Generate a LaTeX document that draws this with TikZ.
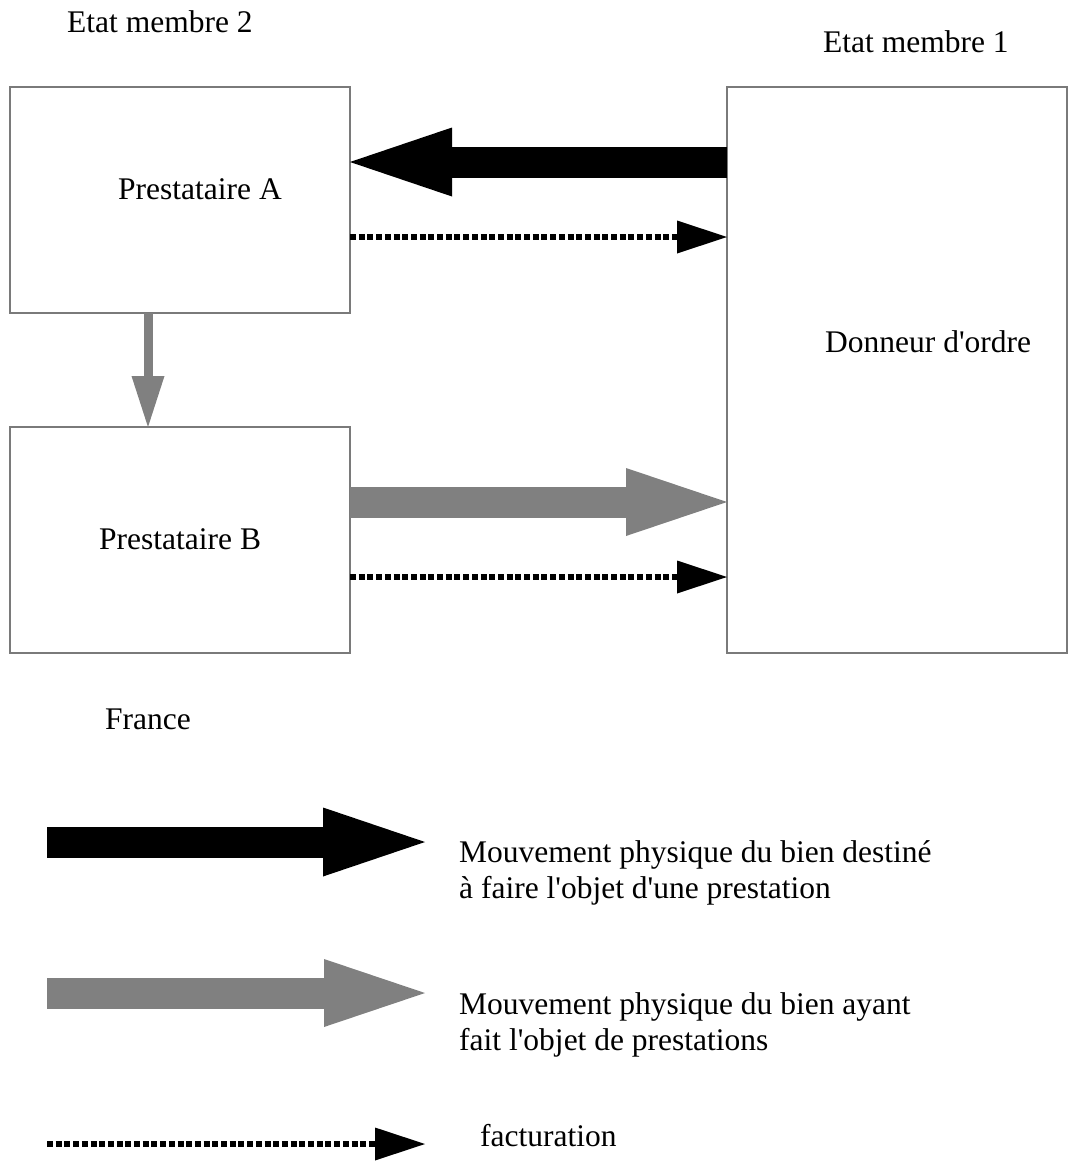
\documentclass[tikz,border=0pt]{standalone}
\usepackage{fontspec}
\newfontfamily\lsf{Liberation Serif}
\usetikzlibrary{arrows.meta}
\definecolor{arrgray}{HTML}{808080}
\definecolor{boxgray}{HTML}{7A7A7A}
\begin{document}
\begin{tikzpicture}[x=1pt,y=-1pt,
  box/.style={draw=boxgray, line width=1.2pt, rectangle, inner sep=0pt, outer sep=0pt},
  lbl/.style={font=\lsf\fontsize{31.5}{36}\selectfont, anchor=base west, inner sep=0pt},
  fatblack/.style={line width=31pt, draw=black, -{Triangle[length=102pt,width=69pt,line width=0pt]}},
  fatgray/.style={line width=31pt, draw=arrgray, -{Triangle[length=101pt,width=68pt,line width=0pt]}},
  thingray/.style={line width=9pt, draw=arrgray, -{Triangle[length=51pt,width=33pt,line width=0pt]}},
  billing/.style={line width=6pt, draw=black, dash pattern=on 6pt off 2.7pt, -{Triangle[length=50pt,width=33pt,line width=0pt]}},
]
\useasboundingbox (0,0) rectangle (1069,1162);
% boxes
\node[box, minimum width=340pt, minimum height=226pt] (A) at (180,200) {};
\node[box, minimum width=340pt, minimum height=226pt] (B) at (180,540) {};
\node[box, minimum width=340pt, minimum height=566pt] (D) at (897,370) {};
% texts
\node[lbl] (em2) at (67,32) {Etat membre 2};
\node[lbl] (em1) at (823,52) {Etat membre 1};
\node[lbl] (tA) at (118,199) {Prestataire A};
\node[lbl] (tB) at (99,549) {Prestataire B};
\node[lbl] (tD) at (825,352) {Donneur d'ordre};
\node[lbl] (fr) at (105,729) {France};
% connectors
\draw[fatblack] (D.west |- 0,162) -- (A.east |- 0,162);
\draw[billing] (A.east |- 0,237) -- (D.west |- 0,237);
\draw[thingray] (A.south -| 148,0) -- (B.north -| 148,0);
\draw[fatgray] (B.east |- 0,502) -- (D.west |- 0,502);
\draw[billing] (B.east |- 0,577) -- (D.west |- 0,577);
% legend
\coordinate (l1s) at (47,842);
\coordinate (l1e) at (425,842);
\coordinate (l2s) at (47,993);
\coordinate (l2e) at (425,993);
\coordinate (l3s) at (47,1144);
\coordinate (l3e) at (425,1144);
\draw[fatblack] (l1s) -- (l1e);
\draw[fatgray] (l2s) -- (l2e);
\draw[billing] (l3s) -- (l3e);
\node[lbl] (t1a) at (459,862) {Mouvement physique du bien destiné};
\node[lbl] (t1b) at (459,898) {à faire l'objet d'une prestation};
\node[lbl] (t2a) at (459,1014) {Mouvement physique du bien ayant};
\node[lbl] (t2b) at (459,1050) {fait l'objet de prestations};
\node[lbl] (t3) at (480,1146) {facturation};
\end{tikzpicture}
\end{document}
